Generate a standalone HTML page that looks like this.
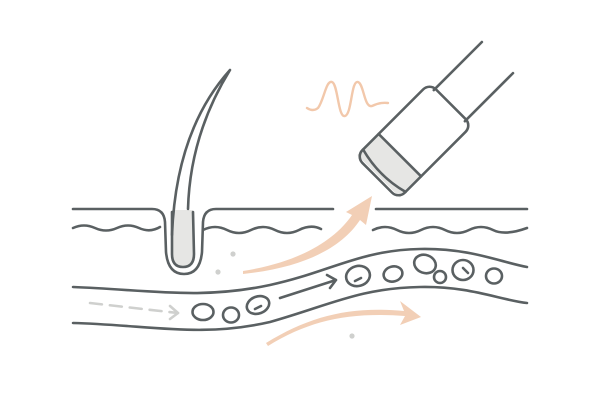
<!DOCTYPE html>
<html><head><style>body{margin:0;background:#fff}svg{display:block}</style></head><body>
<svg width="600" height="400" viewBox="0 0 600 400" xmlns="http://www.w3.org/2000/svg" fill="none" stroke-linecap="round" stroke-linejoin="round">
<g stroke="#5a6062" stroke-width="2.6">
<!-- skin surface -->
<path d="M73 209 H152 Q164 209 165 222 L166 252 Q168 274 184 274 Q200 274 202 252 L203 222 Q204 209 216 209 H333"/>
<path d="M376 209 H527"/>
<!-- wavy line -->
<path d="M73 228 q11 -5 22 0 t22 0 t22 0 t21 -1"/>
<path d="M203 230 q12 -6 24 0 t24 0 t24 0 t24 0 t22 -1"/>
<path d="M373 230 q12 -6 24 0 t24 0 t24 0 t24 0 t24 0 t34 -2"/>
<!-- hair strand fill -->
<path d="M172 235 Q176 130 230 70 Q190 135 188 209" fill="#fff" stroke="none"/>
<!-- hair bulb -->
<path d="M172 210 L172 254 Q172 267 183 267 Q194 267 194 254 L193 210 Z" fill="#e6e6e4" stroke="none"/>
<path d="M172 212 L172 254 Q172 267 183 267 Q194 267 194 254 L193 212"/>
<!-- hair strand lines -->
<path d="M172 235 Q176 130 230 70 Q190 135 188 209"/>
<!-- vessel -->
<path d="M73 287 C150 290 200 300 270 285 C330 272 360 250 420 249 C470 248 500 262 527 267"/>
<path d="M73 323 C150 325 200 338 270 322 C330 305 360 288 420 287 C470 286 500 300 527 303"/>
<!-- cells -->
<ellipse cx="203" cy="312" rx="10.5" ry="8"/>
<ellipse cx="231" cy="315" rx="8" ry="7.5"/>
<ellipse cx="258" cy="305" rx="11.5" ry="8.5" transform="rotate(-20 258 305)"/>
<path d="M255 309 l6 -3"/>
<ellipse cx="358" cy="276" rx="12" ry="10" transform="rotate(-15 358 276)"/>
<path d="M355 281 l6 -3"/>
<ellipse cx="393" cy="274" rx="9.5" ry="7.5" transform="rotate(-15 393 274)"/>
<ellipse cx="425" cy="264" rx="11" ry="9" transform="rotate(20 425 264)"/>
<circle cx="440" cy="277" r="6"/>
<ellipse cx="463" cy="270" rx="10.5" ry="10"/>
<path d="M463 268 l5 5"/>
<ellipse cx="494" cy="276" rx="8" ry="7.5"/>
<!-- dark arrow -->
<path d="M280 298 L336 280 M327 275 L336 280 L330 288"/>
<!-- probe -->
<g transform="translate(414 141) rotate(-45)">
<path d="M50 -22 H118 M50 22 H118"/>
<path d="M-50 -30 H-20 V30 H-50 Z" fill="#e6e6e4" stroke="none"/>
<rect x="-52" y="-30" width="104" height="60" rx="9" fill="none"/>
<path d="M-20 -30 V30"/>
<path d="M-42 -30 Q-50 0 -42 30"/>
</g>
</g>
<!-- gray dashed arrow -->
<g stroke="#cfd0ce" stroke-width="2.6">
<path d="M90 303 L178 313" stroke-dasharray="12 8"/>
<path d="M170 306 L178 313 L170 319"/>
</g>
<!-- peach -->
<path d="M307 108 Q313 112 318 108 C324 100 326 80 332 82 C338 84 338 118 345 116 C352 114 351 80 358 82 C364 84 364 108 372 106 Q380 102 388 103" stroke="#f2c8ab" stroke-width="2.4"/>
<g fill="#f2cfb6">
<path d="M243 271 C300 262 335 240 352 215 L346 212 L372 196 L366 225 L360 220 C340 250 300 268 243 274 Z"/>
<path d="M268 346 C310 320 350 312 405 316 L400 325 L421 317 L400 301 L404 311 C350 306 310 316 266 343 Z"/>
</g>
<g fill="#cfd0ce">
<circle cx="233" cy="254" r="2.6"/><circle cx="218" cy="272" r="2.6"/><circle cx="352" cy="336" r="2.6"/>
</g>
</svg>
</body></html>
